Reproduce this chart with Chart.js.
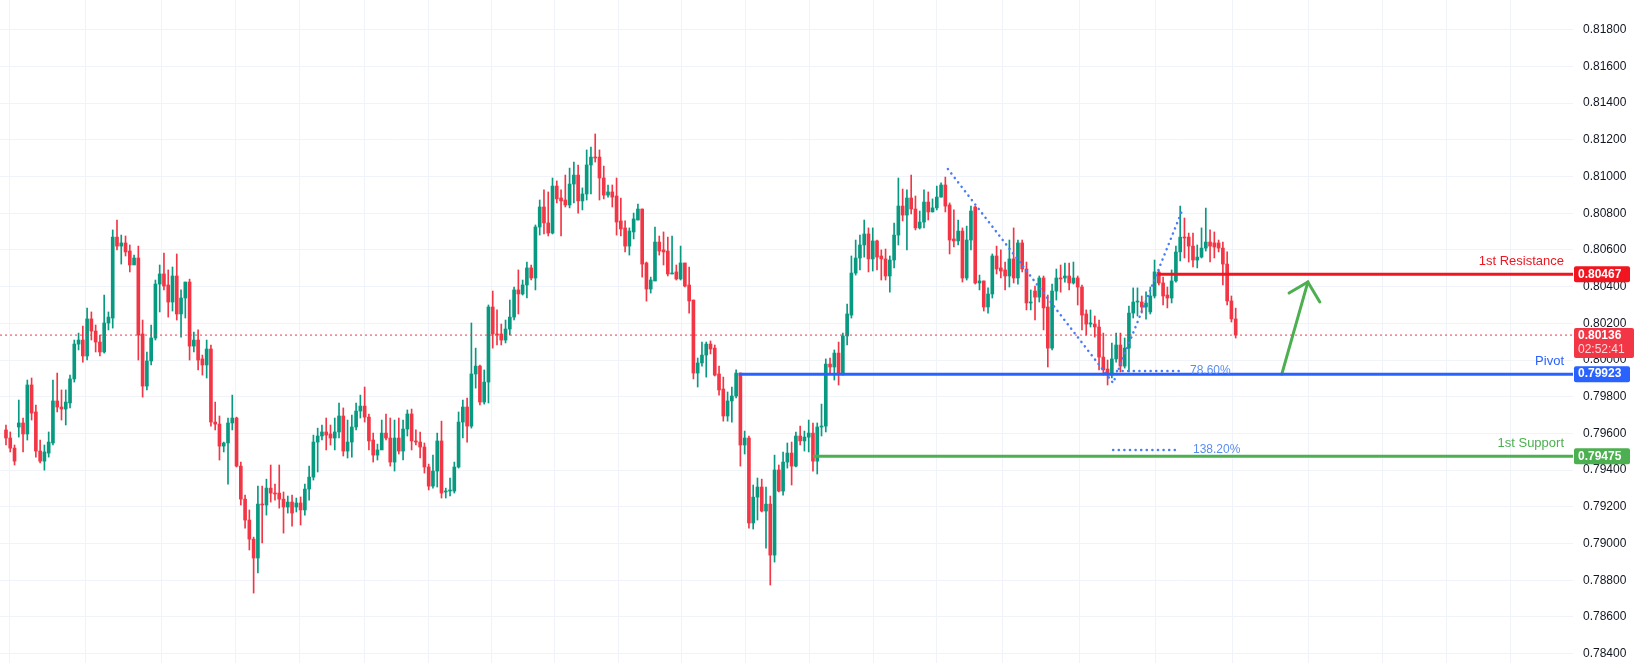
<!DOCTYPE html>
<html>
<head>
<meta charset="utf-8">
<script src="https://cdn.jsdelivr.net/npm/chart.js@4.4.1/dist/chart.umd.min.js"></script>
<style>
  html, body { margin: 0; padding: 0; background: #fff; overflow: hidden; }
</style>
</head>
<body>
<canvas id="c" width="1645" height="663" style="display:block;width:1645px;height:663px"></canvas>
<script>
// candle values (oldest first)
const opens = [0.79619,0.79575,0.79520,0.79635,0.79657,0.79597,0.79864,0.79717,0.79504,0.79449,0.79493,0.79548,0.79777,0.79744,0.79733,0.79766,0.79897,0.80087,0.80109,0.80022,0.80224,0.80158,0.80098,0.80044,0.80202,0.80229,0.80670,0.80621,0.80638,0.80594,0.80518,0.80556,0.80142,0.79858,0.79995,0.80120,0.80414,0.80469,0.80409,0.80316,0.80458,0.80251,0.80338,0.80425,0.80076,0.80109,0.80006,0.79973,0.80060,0.79662,0.79651,0.79531,0.79548,0.79657,0.79684,0.79422,0.79242,0.79128,0.79024,0.78921,0.79215,0.79210,0.79302,0.79275,0.79275,0.79242,0.79199,0.79226,0.79199,0.79221,0.79183,0.79297,0.79362,0.79553,0.79586,0.79608,0.79597,0.79575,0.79608,0.79695,0.79504,0.79553,0.79635,0.79722,0.79749,0.79689,0.79564,0.79482,0.79510,0.79602,0.79575,0.79444,0.79575,0.79504,0.79624,0.79706,0.79559,0.79553,0.79526,0.79417,0.79313,0.79395,0.79559,0.79281,0.79286,0.79286,0.79417,0.79662,0.79744,0.79640,0.79924,0.79967,0.79771,0.79880,0.80289,0.80142,0.80142,0.80109,0.80169,0.80234,0.80382,0.80360,0.80409,0.80502,0.80447,0.80725,0.80834,0.80747,0.80692,0.80948,0.80883,0.80872,0.80845,0.80959,0.81008,0.80867,0.80905,0.81063,0.81106,0.81106,0.80992,0.80899,0.80916,0.80894,0.80758,0.80720,0.80621,0.80698,0.80763,0.80823,0.80529,0.80387,0.80431,0.80643,0.80600,0.80594,0.80469,0.80480,0.80442,0.80529,0.80409,0.80327,0.79929,0.79984,0.80027,0.80087,0.80065,0.79924,0.79842,0.79695,0.79777,0.79804,0.79929,0.79537,0.79575,0.79112,0.79253,0.79308,0.79177,0.79215,0.78937,0.79401,0.79286,0.79444,0.79493,0.79422,0.79586,0.79559,0.79580,0.79602,0.79449,0.79635,0.79640,0.79978,0.79962,0.80038,0.79929,0.80131,0.80245,0.80474,0.80556,0.80627,0.80687,0.80551,0.80649,0.80567,0.80551,0.80458,0.80545,0.80681,0.80839,0.80790,0.80883,0.80823,0.80720,0.80752,0.80861,0.80807,0.80829,0.80888,0.80954,0.80845,0.80660,0.80649,0.80703,0.80447,0.80654,0.80834,0.80420,0.80431,0.80289,0.80360,0.80567,0.80502,0.80491,0.80458,0.80551,0.80447,0.80638,0.80496,0.80311,0.80376,0.80343,0.80447,0.80289,0.80065,0.80376,0.80447,0.80447,0.80458,0.80420,0.80447,0.80398,0.80251,0.80196,0.80196,0.80180,0.80016,0.79951,0.79918,0.80006,0.80082,0.79967,0.80065,0.80256,0.80316,0.80316,0.80289,0.80262,0.80349,0.80480,0.80420,0.80354,0.80338,0.80431,0.80589,0.80670,0.80670,0.80621,0.80545,0.80561,0.80610,0.80643,0.80638,0.80638,0.80610,0.80523,0.80322,0.80224];
const highs = [0.79646,0.79608,0.79537,0.79782,0.79684,0.79891,0.79902,0.79755,0.79564,0.79537,0.79608,0.79891,0.79929,0.79837,0.79837,0.79918,0.80109,0.80147,0.80185,0.80283,0.80262,0.80191,0.80136,0.80354,0.80262,0.80709,0.80763,0.80681,0.80676,0.80627,0.80572,0.80621,0.80218,0.80044,0.80191,0.80436,0.80518,0.80583,0.80491,0.80507,0.80578,0.80382,0.80425,0.80441,0.80153,0.80164,0.80027,0.80109,0.80082,0.79771,0.79695,0.79553,0.79684,0.79809,0.79689,0.79444,0.79264,0.79183,0.79035,0.79313,0.79313,0.79351,0.79428,0.79324,0.79428,0.79281,0.79259,0.79264,0.79248,0.79254,0.79324,0.79422,0.79591,0.79629,0.79646,0.79684,0.79646,0.79684,0.79766,0.79739,0.79673,0.79700,0.79766,0.79809,0.79853,0.79706,0.79602,0.79542,0.79673,0.79706,0.79684,0.79673,0.79684,0.79673,0.79728,0.79733,0.79619,0.79608,0.79548,0.79433,0.79482,0.79602,0.79667,0.79302,0.79357,0.79444,0.79717,0.79782,0.79793,0.80202,0.80065,0.79973,0.79946,0.80300,0.80376,0.80273,0.80196,0.80218,0.80327,0.80398,0.80491,0.80436,0.80534,0.80518,0.80736,0.80872,0.80927,0.80916,0.80992,0.80976,0.80927,0.81008,0.81046,0.81079,0.81063,0.80938,0.81145,0.81161,0.81232,0.81145,0.81057,0.80954,0.80954,0.80992,0.80883,0.80758,0.80720,0.80801,0.80850,0.80823,0.80534,0.80452,0.80725,0.80676,0.80698,0.80670,0.80676,0.80518,0.80621,0.80529,0.80507,0.80327,0.80011,0.80098,0.80098,0.80104,0.80082,0.79967,0.79907,0.79826,0.79853,0.79946,0.79929,0.79613,0.79586,0.79319,0.79357,0.79351,0.79308,0.79259,0.79482,0.79428,0.79499,0.79548,0.79553,0.79608,0.79640,0.79613,0.79673,0.79657,0.79657,0.79760,0.80006,0.80011,0.80055,0.80098,0.80147,0.80305,0.80567,0.80654,0.80681,0.80763,0.80720,0.80720,0.80654,0.80600,0.80605,0.80567,0.80747,0.80992,0.80932,0.80927,0.81008,0.80894,0.80812,0.80927,0.80916,0.80878,0.80948,0.80965,0.80997,0.80856,0.80818,0.80763,0.80720,0.80730,0.80839,0.80839,0.80463,0.80431,0.80393,0.80578,0.80621,0.80600,0.80534,0.80654,0.80720,0.80654,0.80654,0.80534,0.80382,0.80403,0.80458,0.80458,0.80354,0.80414,0.80496,0.80518,0.80529,0.80529,0.80534,0.80458,0.80409,0.80273,0.80273,0.80240,0.80218,0.80147,0.80000,0.80093,0.80147,0.80147,0.80120,0.80294,0.80393,0.80393,0.80349,0.80371,0.80398,0.80545,0.80491,0.80452,0.80398,0.80491,0.80621,0.80839,0.80774,0.80692,0.80692,0.80627,0.80720,0.80828,0.80709,0.80698,0.80654,0.80643,0.80589,0.80349,0.80283];
const lows = [0.79537,0.79499,0.79428,0.79580,0.79499,0.79564,0.79673,0.79471,0.79439,0.79400,0.79471,0.79537,0.79717,0.79673,0.79646,0.79739,0.79880,0.80055,0.79989,0.80000,0.80109,0.80044,0.80022,0.80038,0.80164,0.80174,0.80600,0.80523,0.80567,0.80480,0.80523,0.80000,0.79798,0.79837,0.79973,0.80109,0.80262,0.80382,0.80234,0.80267,0.80218,0.80125,0.80229,0.80000,0.80044,0.79946,0.79918,0.79902,0.79640,0.79619,0.79455,0.79499,0.79324,0.79619,0.79417,0.79210,0.79084,0.78965,0.78730,0.78840,0.79003,0.79155,0.79226,0.79237,0.79193,0.79057,0.79166,0.79095,0.79172,0.79101,0.79155,0.79237,0.79346,0.79390,0.79564,0.79510,0.79537,0.79510,0.79575,0.79477,0.79466,0.79471,0.79619,0.79684,0.79662,0.79510,0.79444,0.79455,0.79542,0.79564,0.79422,0.79395,0.79488,0.79455,0.79586,0.79510,0.79537,0.79466,0.79384,0.79292,0.79302,0.79308,0.79248,0.79248,0.79259,0.79275,0.79411,0.79575,0.79553,0.79629,0.79847,0.79755,0.79760,0.79766,0.80065,0.80082,0.80082,0.80093,0.80136,0.80218,0.80251,0.80354,0.80338,0.80436,0.80382,0.80681,0.80687,0.80676,0.80687,0.80856,0.80676,0.80834,0.80829,0.80856,0.80801,0.80818,0.80872,0.80905,0.81079,0.80872,0.80878,0.80888,0.80834,0.80681,0.80676,0.80589,0.80572,0.80660,0.80763,0.80452,0.80321,0.80365,0.80431,0.80572,0.80518,0.80458,0.80469,0.80436,0.80436,0.80398,0.80256,0.79897,0.79853,0.79967,0.79907,0.80033,0.79913,0.79809,0.79667,0.79667,0.79662,0.79793,0.79422,0.79488,0.79084,0.79079,0.79128,0.79172,0.78975,0.78774,0.78899,0.79281,0.79264,0.79411,0.79319,0.79417,0.79537,0.79504,0.79499,0.79395,0.79379,0.79586,0.79608,0.79929,0.79891,0.79864,0.79918,0.80082,0.80229,0.80463,0.80491,0.80561,0.80480,0.80485,0.80491,0.80436,0.80436,0.80370,0.80502,0.80627,0.80758,0.80600,0.80796,0.80709,0.80714,0.80720,0.80763,0.80807,0.80818,0.80888,0.80807,0.80578,0.80616,0.80627,0.80425,0.80436,0.80600,0.80414,0.80382,0.80267,0.80256,0.80338,0.80469,0.80447,0.80382,0.80398,0.80420,0.80414,0.80480,0.80273,0.80273,0.80218,0.80316,0.80164,0.79962,0.80055,0.80327,0.80370,0.80425,0.80382,0.80414,0.80300,0.80164,0.80136,0.80180,0.80125,0.79946,0.79918,0.79864,0.79902,0.79989,0.79935,0.79956,0.79935,0.80229,0.80240,0.80256,0.80223,0.80251,0.80338,0.80409,0.80300,0.80284,0.80311,0.80425,0.80540,0.80556,0.80534,0.80507,0.80502,0.80556,0.80594,0.80534,0.80556,0.80589,0.80409,0.80300,0.80207,0.80120];
const closes = [0.79575,0.79520,0.79449,0.79657,0.79597,0.79864,0.79711,0.79504,0.79449,0.79499,0.79553,0.79777,0.79744,0.79733,0.79771,0.79897,0.80087,0.80109,0.80022,0.80224,0.80158,0.80098,0.80044,0.80202,0.80234,0.80670,0.80621,0.80638,0.80589,0.80518,0.80556,0.80136,0.79858,0.79995,0.80120,0.80414,0.80469,0.80403,0.80316,0.80458,0.80251,0.80338,0.80425,0.80076,0.80109,0.80000,0.79973,0.80060,0.79662,0.79651,0.79531,0.79548,0.79657,0.79684,0.79422,0.79242,0.79128,0.79024,0.78921,0.79215,0.79210,0.79302,0.79275,0.79270,0.79242,0.79199,0.79226,0.79166,0.79221,0.79183,0.79297,0.79362,0.79553,0.79586,0.79608,0.79591,0.79575,0.79608,0.79695,0.79504,0.79553,0.79635,0.79722,0.79749,0.79689,0.79559,0.79482,0.79510,0.79602,0.79575,0.79444,0.79575,0.79504,0.79624,0.79706,0.79559,0.79553,0.79526,0.79417,0.79313,0.79395,0.79559,0.79275,0.79286,0.79292,0.79417,0.79662,0.79744,0.79640,0.79924,0.79967,0.79771,0.79880,0.80289,0.80142,0.80136,0.80109,0.80169,0.80234,0.80382,0.80360,0.80409,0.80502,0.80447,0.80725,0.80834,0.80747,0.80692,0.80948,0.80878,0.80867,0.80845,0.80959,0.81008,0.80867,0.80905,0.81063,0.81106,0.81101,0.80992,0.80899,0.80916,0.80888,0.80752,0.80714,0.80621,0.80703,0.80769,0.80823,0.80523,0.80387,0.80436,0.80643,0.80594,0.80589,0.80469,0.80474,0.80442,0.80529,0.80403,0.80322,0.79929,0.79984,0.80027,0.80087,0.80060,0.79918,0.79837,0.79695,0.79777,0.79804,0.79929,0.79537,0.79575,0.79112,0.79253,0.79308,0.79177,0.79215,0.78937,0.79401,0.79286,0.79444,0.79493,0.79422,0.79586,0.79559,0.79580,0.79602,0.79449,0.79635,0.79640,0.79978,0.79962,0.80038,0.79929,0.80131,0.80251,0.80474,0.80556,0.80627,0.80687,0.80551,0.80649,0.80561,0.80551,0.80458,0.80545,0.80681,0.80839,0.80790,0.80883,0.80823,0.80720,0.80752,0.80861,0.80807,0.80829,0.80888,0.80954,0.80839,0.80654,0.80649,0.80703,0.80447,0.80654,0.80812,0.80420,0.80431,0.80289,0.80360,0.80567,0.80496,0.80485,0.80458,0.80551,0.80447,0.80638,0.80496,0.80311,0.80316,0.80343,0.80447,0.80284,0.80065,0.80376,0.80447,0.80442,0.80458,0.80420,0.80447,0.80398,0.80245,0.80196,0.80202,0.80180,0.80016,0.79946,0.79918,0.80006,0.80082,0.79967,0.80065,0.80256,0.80316,0.80316,0.80289,0.80311,0.80349,0.80480,0.80420,0.80349,0.80338,0.80431,0.80589,0.80670,0.80665,0.80621,0.80545,0.80561,0.80610,0.80643,0.80621,0.80616,0.80610,0.80523,0.80322,0.80224,0.80136];

const priceTicks = [0.784,0.786,0.788,0.790,0.792,0.794,0.796,0.798,0.800,0.802,0.804,0.806,0.808,0.810,0.812,0.814,0.816,0.818];
// time grid (candle index of each session line)
const timeGrid = [9.8,27.6,45.4,62.3,75.2,92.5,105.4,122.2,134.9,151.8,164.6,181.7,194.8,211.5,224.4,242.6,260.2,278.2,296.3,314,330.9,344,360.9];

const resistance = 0.80467;
const pivot = 0.79923;
const support = 0.79475;
const lastPrice = closes[closes.length - 1];

const GREEN = '#089981';
const RED = '#F23645';
const xMax = 367;
const FONT = '"Liberation Sans", Arial, sans-serif';

const colorOf = (ctx) => closes[ctx.dataIndex] >= opens[ctx.dataIndex] ? GREEN : RED;
const idx = opens.map((_, i) => i);

const hline = (y, x0, color, width, dash) => ({
  type: 'line', data: [{ x: x0, y: y }, { x: xMax, y: y }],
  borderColor: color, borderWidth: width, borderDash: dash || [],
  pointRadius: 0, order: 0
});
const seg = (pts, color, width, dash, cap) => ({
  type: 'line', data: pts, borderColor: color, borderWidth: width,
  borderDash: dash || [], pointRadius: 0, order: 0, borderCapStyle: cap || 'round'
});

const labelsPlugin = {
  id: 'labels',
  afterDraw(chart) {
    const { ctx, scales: { x, y } } = chart;
    ctx.save();
    // price axis labels
    ctx.font = '12px ' + FONT;
    ctx.fillStyle = '#131722';
    ctx.textAlign = 'left';
    ctx.textBaseline = 'middle';
    priceTicks.forEach(v => ctx.fillText(v.toFixed(5), 1583, y.getPixelForValue(v)));

    const badge = (val, bg, lines) => {
      const py = y.getPixelForValue(val);
      const h = lines.length === 1 ? 16 : 30;
      const top = lines.length === 1 ? py - 8 : py - 7;
      ctx.fillStyle = bg;
      ctx.beginPath();
      ctx.roundRect(1574, top, lines.length === 1 ? 56 : 60, h, 2);
      ctx.fill();
      ctx.textBaseline = 'middle';
      ctx.textAlign = 'left';
      lines.forEach((t, i) => {
        ctx.fillStyle = i === 0 ? '#fff' : 'rgba(255,255,255,0.8)';
        ctx.font = (i === 0 ? 'bold ' : '') + '12px ' + FONT;
        ctx.fillText(t, 1578, top + 8 + i * 14);
      });
    };
    const note = (txt, val, color) => {
      ctx.font = '13px ' + FONT;
      ctx.fillStyle = color;
      ctx.textAlign = 'right';
      ctx.textBaseline = 'middle';
      ctx.fillText(txt, 1564, y.getPixelForValue(val) - 13);
    };
    note('1st Resistance', resistance, '#F0151F');
    note('Pivot', pivot, '#2962FF');
    note('1st Support', support, '#4CAF50');
    ctx.font = '12px ' + FONT;
    ctx.fillStyle = '#5B8DEF';
    ctx.textAlign = 'left';
    ctx.textBaseline = 'middle';
    ctx.fillText('78.60%', x.getPixelForValue(277.3), y.getPixelForValue(0.7994));
    ctx.fillText('138.20%', x.getPixelForValue(278), y.getPixelForValue(0.7951));
    badge(resistance, '#F0151F', [resistance.toFixed(5)]);
    badge(lastPrice, RED, [lastPrice.toFixed(5), '02:52:41']);
    badge(pivot, '#2962FF', [pivot.toFixed(5)]);
    badge(support, '#4CAF50', [support.toFixed(5)]);
    ctx.restore();
  }
};

new Chart(document.getElementById('c'), {
  data: {
    datasets: [
      hline(lastPrice, -1.4, RED, 1, [2, 3]),
      hline(resistance, 269.8, '#F0151F', 3),
      hline(pivot, 171.6, '#2962FF', 3),
      hline(support, 189, '#4CAF50', 3),
      seg([{ x: 220.6, y: 0.81041 }, { x: 259.3, y: 0.79875 }, { x: 275.6, y: 0.80823 }], '#4A7CF7', 2.5, [0.1, 5.5]),
      seg([{ x: 260.2, y: 0.7994 }, { x: 275, y: 0.7994 }], '#4A7CF7', 2.5, [0.1, 5.5]),
      seg([{ x: 259.3, y: 0.7951 }, { x: 275, y: 0.7951 }], '#4A7CF7', 2.5, [0.1, 5.5]),
      seg([{ x: 298.8, y: pivot }, { x: 304.9, y: 0.80425 }], '#4CAF50', 3),
      seg([{ x: 300.5, y: 0.80365 }, { x: 304.9, y: 0.80425 }, { x: 307.7, y: 0.80316 }], '#4CAF50', 3),
      {
        type: 'bar', order: 1, grouped: false,
        data: idx.map(i => ({ x: i, y: [opens[i], closes[i]] })),
        backgroundColor: colorOf, barThickness: 3, minBarLength: 1
      },
      {
        type: 'bar', order: 2, grouped: false,
        data: idx.map(i => ({ x: i, y: [lows[i], highs[i]] })),
        backgroundColor: colorOf, barThickness: 1
      }
    ]
  },
  options: {
    responsive: false,
    animation: false,
    devicePixelRatio: 1,
    layout: { padding: 0 },
    plugins: { legend: { display: false }, tooltip: { enabled: false } },
    scales: {
      x: {
        type: 'linear', min: -1.4, max: xMax, offset: false,
        afterBuildTicks: (s) => { s.ticks = timeGrid.map(v => ({ value: v })); },
        afterFit: (s) => { s.height = 0; },
        ticks: { display: false },
        grid: { color: '#F0F3FA', drawTicks: false },
        border: { display: false }
      },
      y: {
        position: 'right', min: 0.78349, max: 0.81962,
        afterBuildTicks: (s) => { s.ticks = priceTicks.map(v => ({ value: v })); },
        afterFit: (s) => { s.width = 72; s.paddingTop = 0; s.paddingBottom = 0; },
        ticks: { display: false },
        grid: { color: '#F0F3FA', drawTicks: false },
        border: { display: false }
      }
    }
  },
  plugins: [labelsPlugin]
});
</script>
</body>
</html>
